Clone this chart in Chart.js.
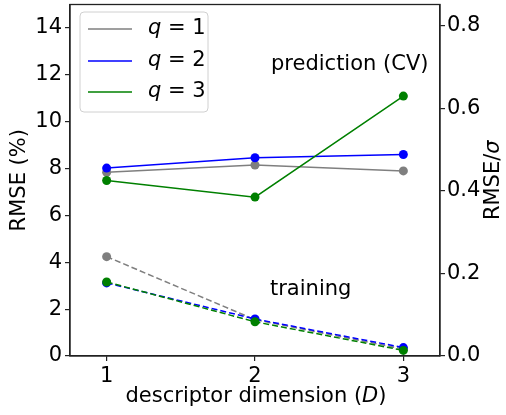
<!DOCTYPE html>
<html>
<head>
<meta charset="utf-8">
<script src="https://cdn.jsdelivr.net/npm/chart.js@4/dist/chart.umd.min.js"></script>
<style>
html,body{margin:0;padding:0;background:#fff;}
#wrap{width:506px;height:415px;position:relative;}
</style>
</head>
<body>
<div id="wrap"><canvas id="c" width="506" height="415"></canvas></div>
<script>
// ---- data ----
const dims = [1, 2, 3];
const seriesNames = ["q = 1", "q = 2", "q = 3"];
const seriesColors = ["#7f7f7f", "#0000ff", "#008000"];
const cvQ1 = [7.84, 8.15, 7.90];
const cvQ2 = [8.02, 8.46, 8.60];
const cvQ3 = [7.49, 6.78, 11.09];
const trainQ1 = [4.24, 1.55, 0.30];
const trainQ2 = [3.12, 1.58, 0.36];
const trainQ3 = [3.16, 1.46, 0.24];
const leftTicks = [0, 2, 4, 6, 8, 10, 12, 14];
const rightTicks = [0.0, 0.2, 0.4, 0.6, 0.8];
const rmsePerSigma = 17.62; // RMSE(%) corresponding to RMSE/sigma = 1
const leftMax = 15;

const FONT = "'DejaVu Sans', sans-serif";
const FS = 21;

function pts(arr) { return dims.map((d, i) => ({x: d, y: arr[i]})); }

let drawIdx = 0;
function ds(arr, idx, dashed) {
  drawIdx++;
  return {
    label: seriesNames[idx],
    data: pts(arr),
    order: 100 - drawIdx,
    borderColor: seriesColors[idx],
    backgroundColor: seriesColors[idx],
    pointBackgroundColor: seriesColors[idx],
    pointBorderColor: seriesColors[idx],
    borderWidth: 1.5,
    pointRadius: 4.5,
    pointBorderWidth: 0,
    borderDash: dashed ? [6, 3] : [],
    tension: 0,
    yAxisID: 'y',
    showLine: true
  };
}

function drawRich(ctx, pieces, x, y, align) {
  let total = 0;
  const widths = pieces.map(p => {
    ctx.font = (p.italic ? 'oblique ' : '') + FS + 'px ' + FONT;
    const w = ctx.measureText(p.t).width;
    total += w;
    return w;
  });
  let cx = align === 'center' ? x - total / 2 : (align === 'right' ? x - total : x);
  ctx.textAlign = 'left';
  pieces.forEach((p, i) => {
    ctx.font = (p.italic ? 'oblique ' : '') + FS + 'px ' + FONT;
    ctx.fillText(p.t, cx, y);
    cx += widths[i];
  });
}

function noPad(s) { s.paddingTop = 0; s.paddingBottom = 0; s.paddingLeft = 0; s.paddingRight = 0; }

const decor = {
  id: 'decor',
  afterDraw(chart) {
    const ctx = chart.ctx;
    const a = chart.chartArea;
    ctx.save();
    ctx.strokeStyle = '#222';
    ctx.lineWidth = 1.3;
    ctx.strokeRect(a.left, a.top, a.right - a.left, a.bottom - a.top);
    ctx.fillStyle = '#000';
    ctx.textBaseline = 'middle';
    ctx.font = FS + 'px ' + FONT;
    ctx.textAlign = 'left';
    ctx.fillText('prediction (CV)', 271, 65);
    ctx.fillText('training', 270, 290);
    drawRich(ctx, [{t: 'descriptor dimension ('}, {t: 'D', italic: true}, {t: ')'}], (a.left + a.right) / 2 + 1, 397, 'center');
    ctx.save();
    ctx.translate(20, (a.top + a.bottom) / 2);
    ctx.rotate(-Math.PI / 2);
    drawRich(ctx, [{t: 'RMSE (%)'}], 0, 0, 'center');
    ctx.restore();
    ctx.save();
    ctx.translate(494, (a.top + a.bottom) / 2);
    ctx.rotate(-Math.PI / 2);
    drawRich(ctx, [{t: 'RMSE/'}, {t: 'σ', italic: true}], 0, 0, 'center');
    ctx.restore();
    // legend
    const lx = 80, ly = 12, lw = 128, lh = 100, r = 4;
    ctx.beginPath();
    ctx.moveTo(lx + r, ly);
    ctx.arcTo(lx + lw, ly, lx + lw, ly + lh, r);
    ctx.arcTo(lx + lw, ly + lh, lx, ly + lh, r);
    ctx.arcTo(lx, ly + lh, lx, ly, r);
    ctx.arcTo(lx, ly, lx + lw, ly, r);
    ctx.closePath();
    ctx.fillStyle = 'rgba(255,255,255,0.8)';
    ctx.fill();
    ctx.strokeStyle = '#d0d0d0';
    ctx.lineWidth = 1;
    ctx.stroke();
    const rows = [29, 61, 92];
    seriesNames.forEach((n, i) => {
      ctx.strokeStyle = seriesColors[i];
      ctx.lineWidth = 1.5;
      ctx.beginPath();
      ctx.moveTo(88, rows[i]);
      ctx.lineTo(132, rows[i]);
      ctx.stroke();
      ctx.fillStyle = '#000';
      const parts = n.split(' ');
      drawRich(ctx, [{t: parts[0], italic: true}, {t: ' ' + parts[1] + ' ' + parts[2]}], 148, rows[i], 'left');
    });
    ctx.restore();
  }
};

const chart = new Chart(document.getElementById('c'), {
  type: 'scatter',
  data: {
    datasets: [
      ds(cvQ1, 0, false), ds(cvQ2, 1, false), ds(cvQ3, 2, false),
      ds(trainQ1, 0, true), ds(trainQ2, 1, true), ds(trainQ3, 2, true)
    ]
  },
  options: {
    responsive: false,
    animation: false,
    devicePixelRatio: 1,
    layout: {padding: {top: 2, left: 0, right: 0, bottom: 0}},
    plugins: {legend: {display: false}, tooltip: {enabled: false}},
    scales: {
      x: {
        type: 'linear', min: 0.753, max: 3.247,
        afterBuildTicks(s) { s.ticks = dims.map(v => ({value: v})); },
        ticks: {font: {family: FONT, size: FS}, color: '#000', padding: 3,
                callback: v => String(v), maxRotation: 0},
        grid: {display: true, drawOnChartArea: false, drawTicks: true, tickLength: 5, color: '#222', lineWidth: 1.2},
        border: {display: true, color: '#222', width: 1.3},
        afterFit(s) { s.height = 59; noPad(s); }
      },
      y: {
        type: 'linear', position: 'left', min: 0, max: leftMax,
        afterBuildTicks(s) { s.ticks = leftTicks.map(v => ({value: v})); },
        ticks: {font: {family: FONT, size: FS}, color: '#000', padding: 3, callback: v => String(v)},
        grid: {display: true, drawOnChartArea: false, drawTicks: true, tickLength: 5, color: '#222', lineWidth: 1.2},
        border: {display: true, color: '#222', width: 1.3},
        afterFit(s) { s.width = 70; noPad(s); }
      },
      y2: {
        type: 'linear', position: 'right', min: 0, max: leftMax / rmsePerSigma,
        afterBuildTicks(s) { s.ticks = rightTicks.map(v => ({value: v})); },
        ticks: {font: {family: FONT, size: FS}, color: '#000', padding: 2, callback: v => v.toFixed(1)},
        grid: {display: true, drawOnChartArea: false, drawTicks: true, tickLength: 5, color: '#222', lineWidth: 1.2},
        border: {display: true, color: '#222', width: 1.3},
        afterFit(s) { s.width = 66; noPad(s); }
      }
    }
  },
  plugins: [decor]
});
</script>
</body>
</html>
